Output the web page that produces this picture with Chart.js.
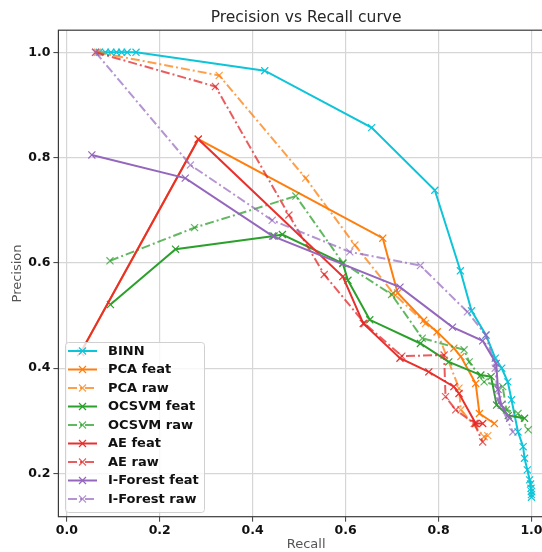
<!DOCTYPE html>
<html>
<head>
<meta charset="utf-8">
<script src="https://cdn.jsdelivr.net/npm/chart.js@4"></script>
<style>
  html, body { margin: 0; padding: 0; background: #fff; overflow: hidden; }
  #frame { width: 542px; height: 552px; overflow: hidden; }
  #box { width: 560px; height: 552px; }
</style>
</head>
<body>
<div id="frame"><div id="box"><canvas id="prGraph"></canvas></div></div>
<script>
// values
const xTicks = [0.0, 0.2, 0.4, 0.6, 0.8, 1.0];
const yTicks = [0.2, 0.4, 0.6, 0.8, 1.0];

const seriesNames = ['BINN', 'PCA feat', 'PCA raw', 'OCSVM feat', 'OCSVM raw', 'AE feat', 'AE raw', 'I-Forest feat', 'I-Forest raw'];

const binnRecall = [0.07, 0.083, 0.095, 0.107, 0.118, 0.13, 0.149, 0.426, 0.656, 0.792, 0.847, 0.871, 0.902, 0.922, 0.936, 0.949, 0.957, 0.971, 0.982, 0.985, 0.991, 0.996, 0.998, 0.999, 1.0, 1.0, 1.0];
const binnPrecision = [1.0, 1.0, 1.0, 1.0, 1.0, 1.0, 1.0, 0.965, 0.857, 0.738, 0.585, 0.509, 0.463, 0.419, 0.400, 0.374, 0.340, 0.279, 0.251, 0.229, 0.207, 0.188, 0.180, 0.172, 0.166, 0.160, 0.155];

const pcaFeatRecall = [0.03, 0.283, 0.680, 0.712, 0.768, 0.797, 0.833, 0.848, 0.880, 0.888, 0.920];
const pcaFeatPrecision = [0.43, 0.835, 0.647, 0.543, 0.491, 0.469, 0.438, 0.422, 0.371, 0.314, 0.295];

const pcaRawRecall = [0.066, 0.328, 0.514, 0.620, 0.703, 0.772, 0.797, 0.844, 0.848, 0.898, 0.906];
const pcaRawPrecision = [1.0, 0.956, 0.761, 0.634, 0.542, 0.485, 0.469, 0.362, 0.321, 0.270, 0.272];

const ocsvmFeatRecall = [0.094, 0.234, 0.446, 0.464, 0.594, 0.605, 0.652, 0.761, 0.822, 0.891, 0.913, 0.925, 0.950, 0.985];
const ocsvmFeatPrecision = [0.521, 0.626, 0.651, 0.654, 0.599, 0.567, 0.492, 0.447, 0.412, 0.387, 0.384, 0.330, 0.310, 0.305];

const ocsvmRawRecall = [0.093, 0.275, 0.493, 0.594, 0.699, 0.765, 0.855, 0.866, 0.898, 0.938, 0.946, 0.971, 0.993];
const ocsvmRawPrecision = [0.604, 0.667, 0.727, 0.600, 0.540, 0.457, 0.435, 0.412, 0.374, 0.365, 0.321, 0.314, 0.283];

const aeFeatRecall = [0.03, 0.283, 0.594, 0.638, 0.717, 0.779, 0.833, 0.844, 0.880, 0.895];
const aeFeatPrecision = [0.43, 0.835, 0.574, 0.485, 0.419, 0.393, 0.365, 0.352, 0.295, 0.295];

const aeRawRecall = [0.062, 0.320, 0.478, 0.554, 0.641, 0.721, 0.812, 0.815, 0.837, 0.877, 0.895];
const aeRawPrecision = [1.0, 0.935, 0.691, 0.578, 0.485, 0.423, 0.425, 0.346, 0.321, 0.295, 0.260];

const ifFeatRecall = [0.054, 0.255, 0.443, 0.717, 0.830, 0.895, 0.924, 0.928, 0.935, 0.953];
const ifFeatPrecision = [0.805, 0.761, 0.651, 0.554, 0.478, 0.452, 0.409, 0.360, 0.330, 0.305];

const ifRawRecall = [0.062, 0.266, 0.442, 0.609, 0.761, 0.862, 0.902, 0.922, 0.928, 0.960];
const ifRawPrecision = [1.0, 0.786, 0.681, 0.621, 0.595, 0.507, 0.463, 0.400, 0.340, 0.279];

const allRecall = [binnRecall, pcaFeatRecall, pcaRawRecall, ocsvmFeatRecall, ocsvmRawRecall, aeFeatRecall, aeRawRecall, ifFeatRecall, ifRawRecall];
const allPrecision = [binnPrecision, pcaFeatPrecision, pcaRawPrecision, ocsvmFeatPrecision, ocsvmRawPrecision, aeFeatPrecision, aeRawPrecision, ifFeatPrecision, ifRawPrecision];

const seriesColors = ['#0ec4d8', '#ff7f0e', 'rgba(255,127,14,0.75)', '#2ca02c', 'rgba(44,160,44,0.75)', '#e8312e', 'rgba(226,39,40,0.75)', '#9467bd', 'rgba(148,103,189,0.7)'];
const dashDot = [9, 3, 2, 3];

const FONT = 'DejaVu Sans';

const datasets = seriesNames.map((name, i) => {
  const isRaw = name.endsWith('raw');
  return {
    label: name,
    data: allRecall[i].map((r, k) => ({ x: r, y: allPrecision[i][k] })),
    borderColor: seriesColors[i],
    backgroundColor: seriesColors[i],
    borderWidth: 2,
    borderDash: isRaw ? dashDot : [],
    pointStyle: 'crossRot',
    pointRadius: 5,
    pointBorderWidth: 1.2,
    pointBorderColor: seriesColors[i],
    showLine: true,
    fill: false,
    tension: 0,
    order: seriesNames.length - i
  };
});

// matplotlib-style box around the plot area
const plotFrame = {
  id: 'plotFrame',
  afterDatasetsDraw(chart) {
    const a = chart.chartArea;
    const ctx = chart.ctx;
    ctx.save();
    ctx.strokeStyle = '#3a3a3a';
    ctx.lineWidth = 1.2;
    ctx.strokeRect(a.left, a.top, a.right - a.left, a.bottom - a.top);
    ctx.restore();
  }
};

// legend drawn in the lower-left corner, over the lines
const cornerLegend = {
  id: 'cornerLegend',
  afterDatasetsDraw(chart) {
    const ctx = chart.ctx;
    const sets = chart.data.datasets;
    ctx.save();
    ctx.setLineDash([]);
    ctx.beginPath();
    ctx.roundRect(65.5, 342.5, 139, 170, 3);
    ctx.fillStyle = 'rgba(255,255,255,0.8)';
    ctx.fill();
    ctx.strokeStyle = '#d0d0d0';
    ctx.lineWidth = 1;
    ctx.stroke();

    sets.forEach((ds, i) => {
      const y = 351 + i * 18.5;
      ctx.strokeStyle = ds.borderColor;
      ctx.lineWidth = 2;
      ctx.setLineDash(ds.borderDash);
      ctx.beginPath();
      ctx.moveTo(68, y);
      ctx.lineTo(97, y);
      ctx.stroke();
      ctx.setLineDash([]);
      ctx.lineWidth = 1.2;
      ctx.beginPath();
      ctx.moveTo(79, y - 3.5);
      ctx.lineTo(86, y + 3.5);
      ctx.moveTo(79, y + 3.5);
      ctx.lineTo(86, y - 3.5);
      ctx.stroke();
      ctx.fillStyle = '#111';
      ctx.font = 'bold 13px "' + FONT + '"';
      ctx.textBaseline = 'middle';
      ctx.fillText(ds.label, 108, y + 0.5);
    });
    ctx.restore();
  }
};

new Chart(document.getElementById('prGraph'), {
  type: 'line',
  data: { datasets },
  options: {
    responsive: true,
    maintainAspectRatio: false,
    animation: false,
    layout: { padding: { right: 3 } },
    scales: {
      x: {
        type: 'linear',
        min: -0.018,
        max: 1.048,
        afterBuildTicks: s => { s.ticks = xTicks.map(v => ({ value: v })); },
        afterFit: s => { s.height = 35.3; },
        ticks: {
          callback: v => v.toFixed(1),
          font: { family: FONT, size: 12.5, weight: 'bold' },
          color: '#111',
          padding: 2,
          maxRotation: 0,
          autoSkip: false
        },
        grid: { color: '#d6d6d6', lineWidth: 1.2, tickLength: 5, tickColor: '#3a3a3a', tickWidth: 1 },
        border: { display: false },
        title: { display: true, text: 'Recall', color: '#555', font: { family: FONT, size: 13 }, padding: { top: 0, bottom: 0 } }
      },
      y: {
        type: 'linear',
        min: 0.118,
        max: 1.042,
        afterBuildTicks: s => { s.ticks = yTicks.map(v => ({ value: v })); },
        afterFit: s => { s.width = 58.4; },
        ticks: {
          callback: v => v.toFixed(1),
          font: { family: FONT, size: 12.5, weight: 'bold' },
          color: '#111',
          padding: 3,
          autoSkip: false
        },
        grid: { color: '#d6d6d6', lineWidth: 1.2, tickLength: 5, tickColor: '#3a3a3a', tickWidth: 1 },
        border: { display: false },
        title: { display: true, text: 'Precision', color: '#555', font: { family: FONT, size: 13 }, padding: { top: 10, bottom: 0 } }
      }
    },
    plugins: {
      legend: { display: false },
      tooltip: { enabled: false },
      title: {
        display: true,
        text: 'Precision vs Recall curve',
        fullSize: false,
        color: '#262626',
        font: { family: FONT, size: 15.5, weight: 'normal' },
        padding: { top: 8.7, bottom: 2.9 }
      }
    }
  },
  plugins: [plotFrame, cornerLegend]
});
</script>
</body>
</html>
